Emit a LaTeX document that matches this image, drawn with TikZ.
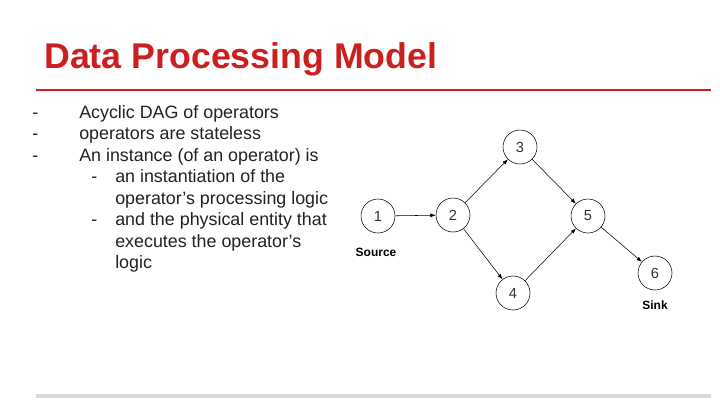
\documentclass[tikz,border=0pt]{standalone}
\usepackage{fontspec}
\setmainfont{Liberation Sans}
\usetikzlibrary{arrows.meta}
\definecolor{ttl}{HTML}{CC1F1F}
\definecolor{txt}{HTML}{222222}
\begin{document}
\begin{tikzpicture}[x=0.75pt,y=-0.75pt,
  circ/.style={circle,draw=black,thin,minimum size=25.5pt,inner sep=0pt,font=\fontsize{11}{12}\selectfont,text=black!80},
  edge/.style={-{Latex[length=4pt,width=3pt]},thin},
  bl/.style={anchor=base west,font=\fontsize{13.4}{15}\selectfont,text=txt,inner sep=0pt},
  lbl/.style={font=\bfseries\fontsize{9}{10}\selectfont,inner sep=0pt}]
\useasboundingbox (0,0) rectangle (720,405);
\fill[white] (0,0) rectangle (720,405);
\node[anchor=base west,inner sep=0pt,text=ttl,font=\bfseries\fontsize{26.8}{30}\selectfont] (title) at (44,68) {Data Processing Model};
\draw[ttl,line width=2.2pt] (36,90) -- (711,90);
\draw[black!15,line width=3pt] (36,396) -- (711,396);
\foreach \y/\t [count=\i] in {118/Acyclic DAG of operators,139.5/operators are stateless,161/An instance (of an operator) is}{
  \node[bl] (d\i) at (32,\y) {-};
  \node[bl] (t\i) at (79,\y) {\t};}
\node[bl] (d4) at (91,182.5) {-};
\node[bl] (t4) at (115,182.5) {an instantiation of the};
\node[bl] (t5) at (115,204) {operator’s processing logic};
\node[bl] (d6) at (91,225.5) {-};
\node[bl] (t6) at (115,225.5) {and the physical entity that};
\node[bl] (t7) at (115,247) {executes the operator’s};
\node[bl] (t8) at (115,268.5) {logic};
\node[circ] (n1) at (378,216) {1};
\node[circ] (n2) at (453,215) {2};
\node[circ] (n3) at (520,147) {3};
\node[circ] (n4) at (513,293) {4};
\node[circ] (n5) at (588,216) {5};
\node[circ] (n6) at (655,273) {6};
\node[lbl] (src) at (376,252) {Source};
\node[lbl] (snk) at (655,305) {Sink};
\draw[edge] (n1) -- (n2);
\draw[edge] (n2) -- (n3);
\draw[edge] (n2) -- (n4);
\draw[edge] (n3) -- (n5);
\draw[edge] (n4) -- (n5);
\draw[edge] (n5) -- (n6);
\end{tikzpicture}
\end{document}
